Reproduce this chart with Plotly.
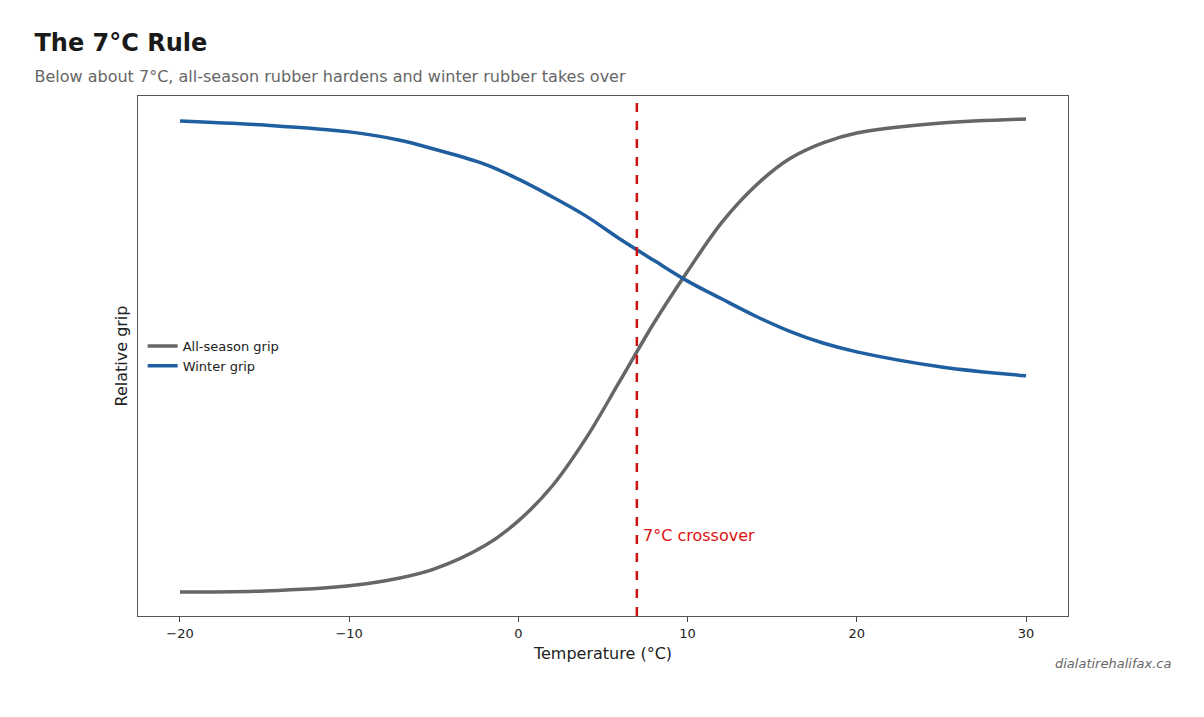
import plotly.graph_objects as go

temps = [-20, -15, -10, -7, -5, -2, 0, 2, 4, 6, 8, 10, 12, 14, 16, 18, 20, 25, 30]
all_season = [0.046, 0.048, 0.058, 0.073, 0.090, 0.135, 0.183, 0.25, 0.342, 0.452,
              0.563, 0.663, 0.756, 0.827, 0.879, 0.910, 0.929, 0.948, 0.956]
winter = [0.952, 0.944, 0.931, 0.915, 0.898, 0.869, 0.840, 0.806, 0.769, 0.725,
          0.684, 0.644, 0.610, 0.577, 0.548, 0.525, 0.508, 0.479, 0.462]
crossover = 7
x_ticks = [-20, -10, 0, 10, 20, 30]
x_labels = ["−20", "−10", "0", "10", "20", "30"]

fig = go.Figure()
fig.add_trace(go.Scatter(x=temps, y=all_season, mode="lines", name="All-season grip",
                         line=dict(color="#666666", width=3.5, shape="spline")))
fig.add_trace(go.Scatter(x=temps, y=winter, mode="lines", name="Winter grip",
                         line=dict(color="#1f5fa0", width=3.5, shape="spline")))
fig.add_vline(x=crossover, line=dict(color="#cc1111", width=2.5, dash="dash"))
fig.add_annotation(x=crossover, y=0.154, text="7°C crossover", showarrow=False,
                   xanchor="left", xshift=4, font=dict(color="#dd1111", size=16))

fig.update_layout(
    width=1204, height=717, plot_bgcolor="white", paper_bgcolor="white",
    margin=dict(l=130, r=144, t=88, b=109),
    font=dict(family="DejaVu Sans", color="#222222"),
    title=dict(text="<b>The 7°C Rule</b><br><span style='font-size:16px;color:#666666'>Below about 7°C, all-season rubber hardens and winter rubber takes over</span>",
               x=0.022, xanchor="left", y=0.94, yanchor="top", font=dict(size=24, color="#1a1a1a")),
    legend=dict(x=0.005, y=0.5, xanchor="left", yanchor="middle", bgcolor="rgba(0,0,0,0)",
                font=dict(size=13)),
    xaxis=dict(range=[-22.48, 32.48], tickvals=x_ticks, ticktext=x_labels, showgrid=False,
               zeroline=False, showline=True, mirror=True, linecolor="#555555", ticks="outside",
               ticklen=5, tickfont=dict(size=13),
               title=dict(text="Temperature (°C)", font=dict(size=16), standoff=8)),
    yaxis=dict(range=[0, 1], showticklabels=False, showgrid=False, zeroline=False,
               showline=True, mirror=True, linecolor="#555555",
               title=dict(text="Relative grip", font=dict(size=16), standoff=5)),
)
fig.add_annotation(xref="paper", yref="paper", x=1.113, y=-0.11, text="<i>dialatirehalifax.ca</i>",
                   showarrow=False, xanchor="right", font=dict(size=13, color="#666666"))
fig.write_html("out.html")
